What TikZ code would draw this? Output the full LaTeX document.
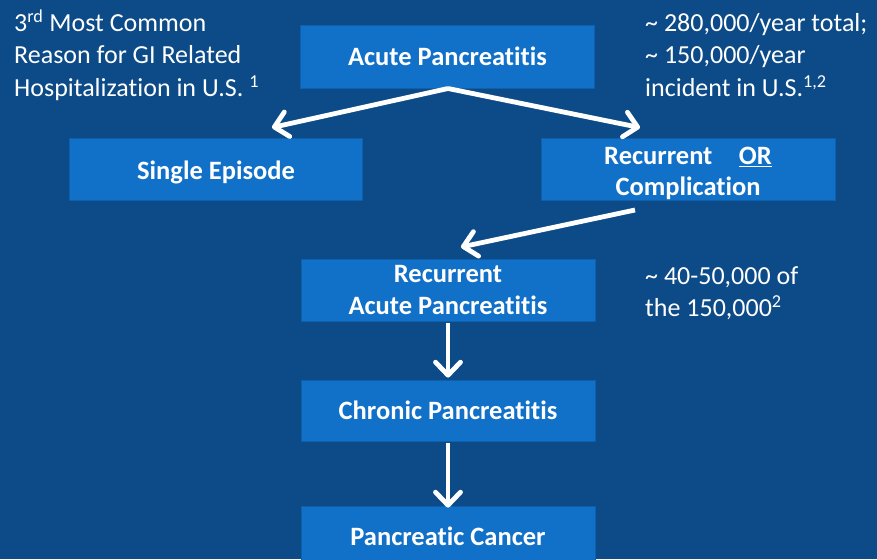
\documentclass[tikz,border=0pt]{standalone}
\usepackage{fontspec}
\setmainfont[Ligatures=NoCommon]{Carlito}
\usetikzlibrary{arrows.meta}
\definecolor{bgblue}{HTML}{0C4B87}
\definecolor{boxblue}{HTML}{1170C8}
\definecolor{boxedge}{HTML}{0F60AC}
\tikzset{
  flowbox/.style={fill=boxblue, draw=boxedge, line width=0.8pt, minimum width=294pt, minimum height=62pt, inner sep=0pt, text=white, font=\fontsize{26.5}{31.5}\selectfont\bfseries, align=center},
  note/.style={text=white, font=\fontsize{26}{32.5}\selectfont, align=left, inner sep=0pt},
  flowarrow/.style={draw=white, line width=4.8pt, -{Straight Barb[length=13pt, width=25pt, line cap=round, line join=round]}, shorten >=2pt}
}
\begin{document}
\begin{tikzpicture}[x=1pt,y=-1pt]
\fill[bgblue] (0,0) rectangle (877,559);
\useasboundingbox (0,0) rectangle (877,559);
\node[flowbox, minimum height=63pt] (acute) at (447.5,56.5) {Acute Pancreatitis};
\node[flowbox, minimum width=293pt] (single) at (216,169.5) {\rule{0pt}{24.5pt}Single Episode};
\node[flowbox] (recor) at (688,169.5) {\rule{0pt}{25pt}Recurrent\hspace{1em}\underline{OR}\\[-1pt]Complication};
\node[flowbox] (rap) at (448,290) {Recurrent\\Acute Pancreatitis};
\node[flowbox, minimum height=61pt] (chronic) at (448,410.5) {Chronic Pancreatitis};
\node[flowbox, minimum height=60pt] (cancer) at (448,536) {Pancreatic Cancer};
\node[note, anchor=base west] (leftnote) at (14,96.5) {3\textsuperscript{rd} Most Common\\Reason for GI Related\\Hospitalization in U.S. \textsuperscript{1}};
\node[note, anchor=base west] (rightnote) at (645,96.5) {\textasciitilde{} 280,000/year total;\\\textasciitilde{} 150,000/year\\incident in U.S.\textsuperscript{1,2}};
\node[note, anchor=base west] (ranote) at (645,316.5) {\textasciitilde{} 40-50,000 of\\the 150,000\textsuperscript{2}};
\coordinate (split) at (448,88.5);
\coordinate (leftend) at (270,128);
\coordinate (rightend) at (642,128);
\coordinate (recstart) at (635,210);
\coordinate (recend) at (459,247.5);
\draw[flowarrow] (split) -- (leftend);
\draw[flowarrow] (split) -- (rightend);
\draw[flowarrow] (recstart) -- (recend);
\draw[flowarrow] (rap.south) ++(0,2) coordinate (d1) (d1) -- (chronic.north);
\draw[flowarrow] (chronic.south) ++(0,2) coordinate (d2) (d2) -- ([yshift=-4pt]cancer.north);
\end{tikzpicture}
\end{document}
